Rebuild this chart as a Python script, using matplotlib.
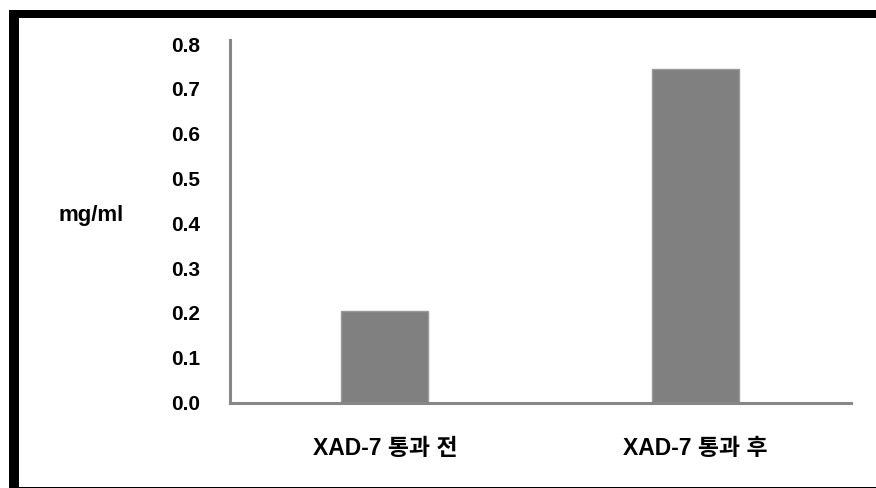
import matplotlib.pyplot as plt
from matplotlib.patches import Rectangle

# 시료별 농도 (mg/ml)
categories = ["XAD-7 통과 전", "XAD-7 통과 후"]
values = [0.204, 0.744]
yticks = [0.0, 0.1, 0.2, 0.3, 0.4, 0.5, 0.6, 0.7, 0.8]

W, H = 876, 488
plt.rcParams['font.family'] = ['Liberation Sans', 'Noto Sans CJK KR']
plt.rcParams['font.weight'] = 'bold'

fig = plt.figure(figsize=(W / 100, H / 100), dpi=100)
fig.patch.set_facecolor('white')

# 플롯 영역 (픽셀 기준으로 배치)
left, right, bottom, top = 229.5, 851, 402.5, 40
ax = fig.add_axes([left / W, (H - bottom) / H, (right - left) / W, (bottom - top) / H])

x = range(len(categories))
ax.bar(x, values, width=0.28, color='#808080', edgecolor='#9a9a9a', linewidth=1, zorder=2)

ax.set_xlim(-0.5, 1.5)
ax.set_ylim(0, 0.809)
ax.set_yticks(yticks)
ax.set_yticklabels([f"{t:.1f}" for t in yticks], fontsize=15, fontweight='bold')
ax.set_xticks(list(x))
ax.set_xticklabels(categories, fontsize=16.5, fontweight='bold')
ax.tick_params(axis='y', length=0, pad=21)
ax.tick_params(axis='x', length=0, pad=25)

for side in ['top', 'right']:
    ax.spines[side].set_visible(False)
for side in ['left', 'bottom']:
    ax.spines[side].set_color('#878787')
    ax.spines[side].set_linewidth(2.2)

fig.text(91 / W, (H - 215) / H, "mg/ml", fontsize=16, fontweight='bold',
         ha='center', va='center')

# 바깥 테두리: 위/왼쪽은 굵게, 아래는 가늘게
def px_rect(x0, y0, x1, y1):
    fig.add_artist(Rectangle((x0 / W, (H - y1) / H), (x1 - x0) / W, (y1 - y0) / H,
                             transform=fig.transFigure, color='black', lw=0))

px_rect(9, 10, W, 18)
px_rect(9, 10, 19, 487.5)
px_rect(9, 486.5, W, 487.5)

fig.savefig('out.png', dpi=100)
